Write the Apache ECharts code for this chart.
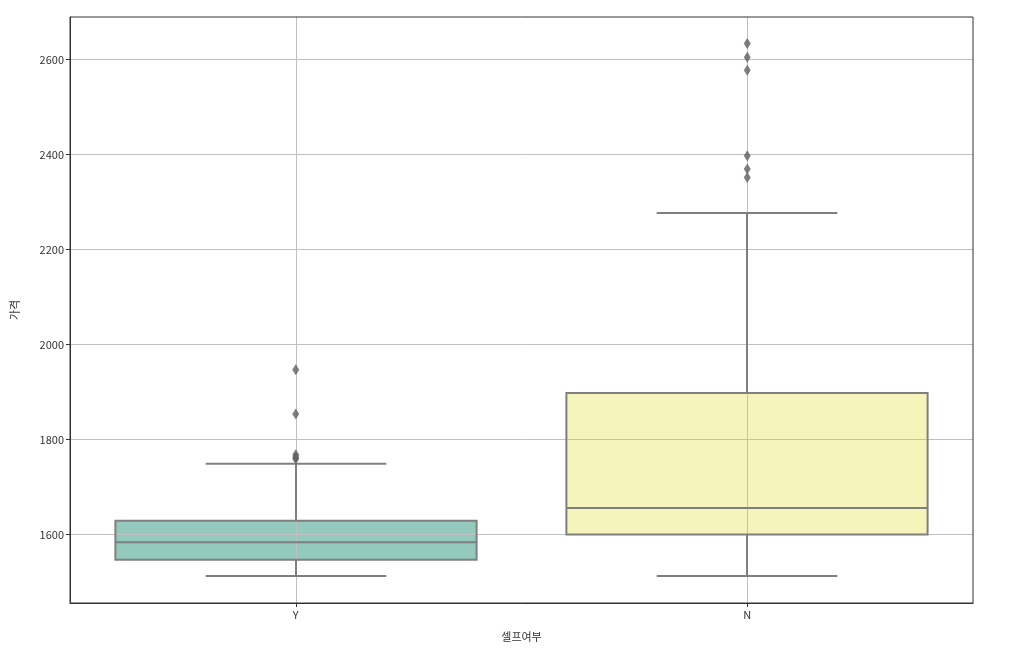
<!DOCTYPE html>
<html><head><meta charset="utf-8">
<script src="https://cdn.jsdelivr.net/npm/echarts@6/dist/echarts.min.js"></script>
<style>html,body{margin:0;padding:0;background:#fff}#c{width:1027px;height:658px}</style>
</head><body><div id="c"></div>
<script>
const categories = ['Y', 'N'];
const lowerWhisker = [1513, 1513];
const q1 = [1547, 1600];
const median = [1584, 1656];
const q3 = [1629, 1898];
const upperWhisker = [1749, 2277];
const outliersY = [1947, 1854, 1768, 1763, 1759];
const outliersN = [2634, 2605, 2578, 2398, 2370, 2352];
const boxColors = ['#94c9bd', '#f5f5bb'];
const yTicks = [1600, 1800, 2000, 2200, 2400, 2600];

const lineColor = '#7f7f7f';
const gridColor = '#c0c0c0';
const boxData = categories.map((c, i) => [i, lowerWhisker[i], q1[i], median[i], q3[i], upperWhisker[i]]);
const outlierData = [];
outliersY.forEach(v => outlierData.push([0, v]));
outliersN.forEach(v => outlierData.push([1, v]));

function fillItem(params, api) {
  const i = api.value(0);
  const band = api.size([1, 0])[0];
  const hw = band * 0.4;
  const pQ1 = api.coord([i, api.value(2)]);
  const pQ3 = api.coord([i, api.value(4)]);
  return {
    type: 'rect',
    shape: { x: pQ1[0] - hw, y: pQ3[1], width: hw * 2, height: pQ1[1] - pQ3[1] },
    style: { fill: boxColors[i], stroke: null }
  };
}
function vGridItem(params, api) {
  const i = api.value(0);
  const cs = params.coordSys;
  const x = Math.round(api.coord([i, api.value(1)])[0]) + 0.5;
  return {
    type: 'line',
    shape: { x1: x, y1: cs.y, x2: x, y2: cs.y + cs.height },
    style: { stroke: gridColor, lineWidth: 1 }
  };
}
function lineItem(params, api) {
  const i = api.value(0);
  const band = api.size([1, 0])[0];
  const hw = band * 0.4, cw = band * 0.2;
  const pLo = api.coord([i, api.value(1)]);
  const pQ1 = api.coord([i, api.value(2)]);
  const pMed = api.coord([i, api.value(3)]);
  const pQ3 = api.coord([i, api.value(4)]);
  const pHi = api.coord([i, api.value(5)]);
  const x = Math.round(pQ1[0]);
  const st = { stroke: lineColor, lineWidth: 2, fill: null };
  return {
    type: 'group',
    children: [
      { type: 'rect', shape: { x: x - hw, y: pQ3[1], width: hw * 2, height: pQ1[1] - pQ3[1] }, style: st },
      { type: 'line', shape: { x1: x - hw, y1: pMed[1], x2: x + hw, y2: pMed[1] }, style: st },
      { type: 'line', shape: { x1: x, y1: pQ1[1], x2: x, y2: pLo[1] }, style: st },
      { type: 'line', shape: { x1: x, y1: pQ3[1], x2: x, y2: pHi[1] }, style: st },
      { type: 'line', shape: { x1: x - cw, y1: pLo[1], x2: x + cw, y2: pLo[1] }, style: st },
      { type: 'line', shape: { x1: x - cw, y1: pHi[1], x2: x + cw, y2: pHi[1] }, style: st }
    ]
  };
}

const font = '"Noto Sans CJK KR", "Noto Sans", sans-serif';
const chart = echarts.init(document.getElementById('c'), null, { renderer: 'canvas' });
chart.setOption({
  animation: false,
  backgroundColor: '#fff',
  grid: { left: 70, right: 54, top: 17, bottom: 55, show: true, borderColor: '#333', borderWidth: 1, backgroundColor: 'transparent', z: 4 },
  xAxis: {
    type: 'category', data: categories, z: 2,
    name: '셀프여부', nameLocation: 'middle', nameGap: 28,
    nameTextStyle: { fontFamily: font, fontSize: 11, color: '#333' },
    axisLine: { show: true, lineStyle: { color: '#333', width: 1 } },
    axisTick: { show: true, alignWithLabel: true, length: 4, lineStyle: { color: '#333' } },
    axisLabel: { fontFamily: font, fontSize: 11, color: '#333', margin: 6 },
    splitLine: { show: false },
    boundaryGap: true
  },
  yAxis: {
    type: 'value', min: 1456, max: 2690, z: 2,
    name: '가격', nameLocation: 'middle', nameGap: 50, nameRotate: 90,
    nameTextStyle: { fontFamily: font, fontSize: 11, color: '#333' },
    axisLine: { show: true, lineStyle: { color: '#333', width: 1 } },
    axisTick: { show: true, length: 4, lineStyle: { color: '#333' }, customValues: yTicks },
    axisLabel: { fontFamily: font, fontSize: 11, color: '#333', margin: 6, customValues: yTicks, formatter: v => String(v) },
    splitLine: { show: true, lineStyle: { color: gridColor, width: 1 } },
    interval: 200
  },
  series: [
    { type: 'custom', z: 1, renderItem: fillItem, data: boxData, encode: { x: 0, y: [1, 2, 3, 4, 5] }, silent: true },
    { type: 'custom', z: 2, renderItem: vGridItem, data: categories.map((c, i) => [i, q1[i]]), encode: { x: 0, y: 1 }, silent: true, clip: false },
    { type: 'custom', z: 3, renderItem: lineItem, data: boxData, encode: { x: 0, y: [1, 2, 3, 4, 5] }, silent: true },
    { type: 'scatter', z: 4, data: outlierData, symbol: 'diamond', symbolSize: [7, 11], itemStyle: { color: '#5f5f5f' }, silent: true }
  ]
});
</script></body></html>
